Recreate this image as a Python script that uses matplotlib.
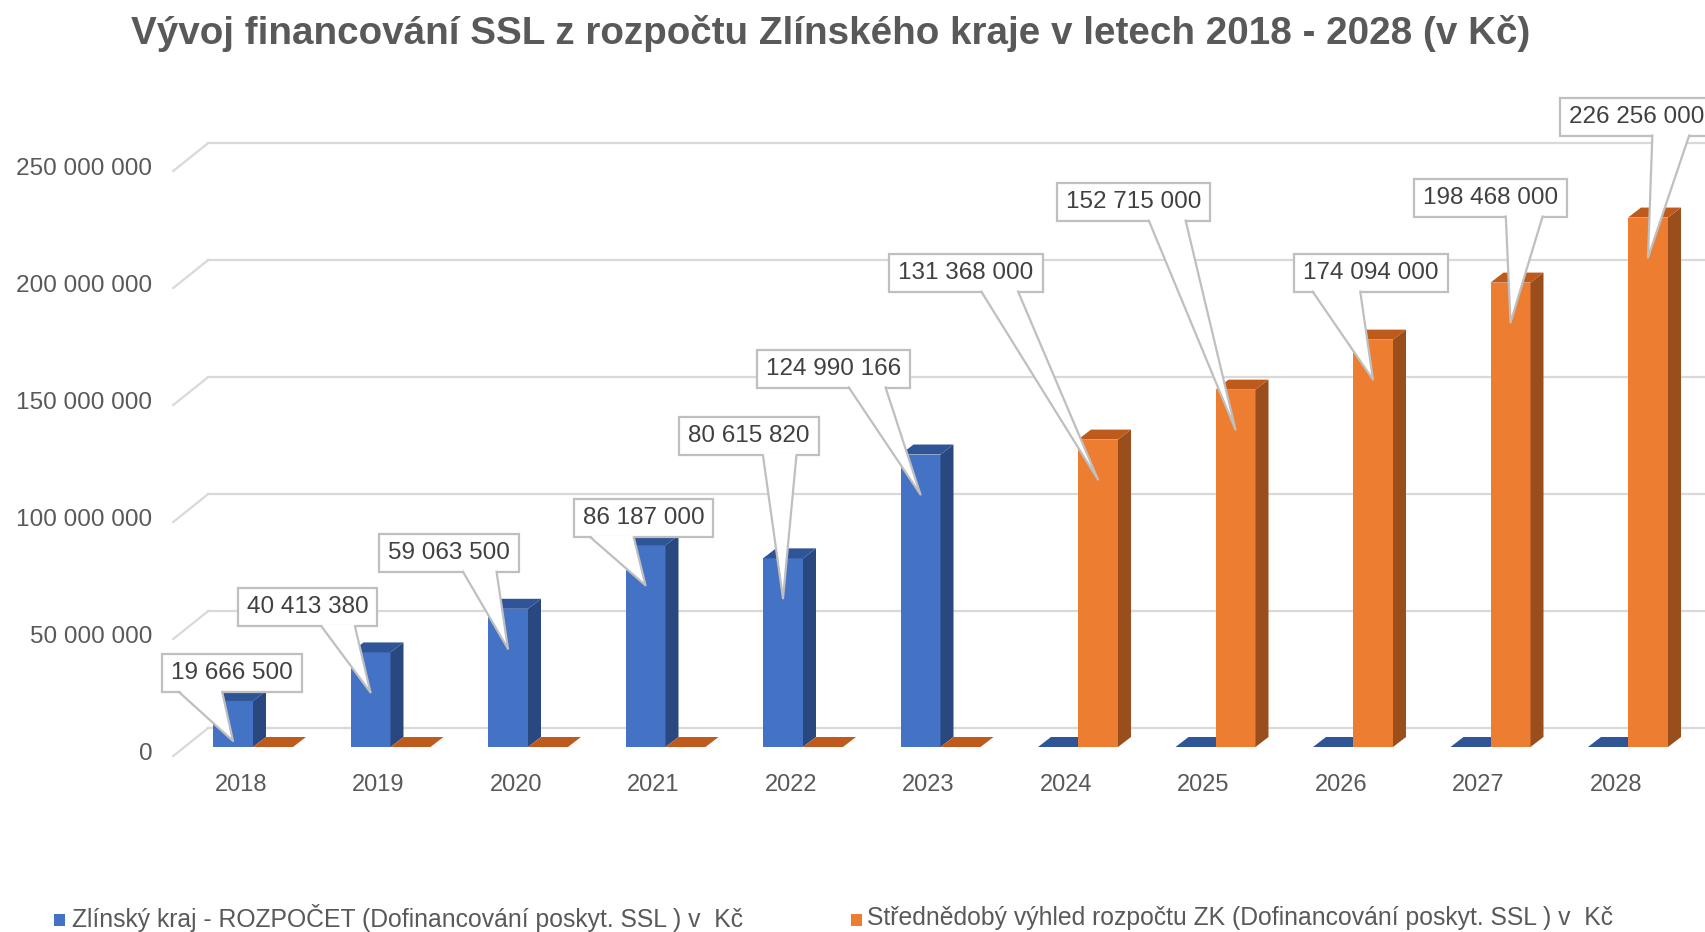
import matplotlib
matplotlib.use("Agg")
import matplotlib.pyplot as plt
from matplotlib.patches import Polygon, Rectangle
from matplotlib.lines import Line2D
from matplotlib.transforms import IdentityTransform

plt.rcParams['font.family'] = ['Liberation Sans', 'DejaVu Sans']

# ---------------- data ----------------
years = ['2018', '2019', '2020', '2021', '2022', '2023', '2024', '2025', '2026', '2027', '2028']
rozpocet = [19666500, 40413380, 59063500, 86187000, 80615820, 124990166, 0, 0, 0, 0, 0]
vyhled = [0, 0, 0, 0, 0, 0, 131368000, 152715000, 174094000, 198468000, 226256000]
y_ticks = [0, 50000000, 100000000, 150000000, 200000000, 250000000]
series_names = ['Zlínský kraj - ROZPOČET (Dofinancování poskyt. SSL ) v  Kč',
                'Střednědobý výhled rozpočtu ZK (Dofinancování poskyt. SSL ) v  Kč']
title = 'Vývoj financování SSL z rozpočtu Zlínského kraje v letech 2018 - 2028 (v Kč)'

# ---------------- layout (pixels) ----------------
W, H = 1706, 932
AX_TOP, AX_BOT = 60, 800
X0_PX, CAT_PX = 253.0, 137.5
BASE_PX, UNIT_PX = 747.0, 2.34e-6
BAR_W = 40.0 / CAT_PX
DX, DY = 13, 10              # bar depth
BACK = (24, 19)              # back wall offset
FRONT = (-11, -9)            # front floor edge offset
# label box centre offsets relative to the front-top centre of the bar (x right, y down)
label_offsets = [(-1, -28), (-63, -45), (-59, -56), (-2, -27), (-34, -122), (-87, -86),
                 (-132, -167), (-102, -188), (-2, -67), (-20, -85), (-11, -101)]

BLUE, BLUE_SIDE, BLUE_TOP = '#4472C4', '#2A4880', '#2F5597'
ORANGE, ORANGE_SIDE, ORANGE_TOP = '#ED7D31', '#9A4E1C', '#BE5A1C'
GRID = '#D9D9D9'
TXT = '#595959'

fig = plt.figure(figsize=(W / 100, H / 100), dpi=100)
ax = fig.add_axes([0, (H - AX_BOT) / H, 1, (AX_BOT - AX_TOP) / H])
ax.set_xlim((0 - X0_PX) / CAT_PX, (W - X0_PX) / CAT_PX)
ax.set_ylim((BASE_PX - AX_BOT) / UNIT_PX, (BASE_PX - AX_TOP) / UNIT_PX)
ax.axis('off')
ID = IdentityTransform()


def disp(x, v, dx=0.0, dy=0.0):
    p = ax.transData.transform((x, v))
    return (p[0] + dx, p[1] + dy)


# gridlines (back wall + left wall diagonal)
for v in y_ticks:
    b = disp(-0.5, v, *BACK)
    f = disp(-0.5, v, *FRONT)
    ax.add_line(Line2D([b[0], W + 5], [b[1], b[1]], transform=ID, color=GRID, lw=1.6, zorder=1))
    ax.add_line(Line2D([f[0], b[0]], [f[1], b[1]], transform=ID, color=GRID, lw=1.6, zorder=1))
    lab = '{:,}'.format(v).replace(',', ' ')
    ax.text(f[0] - 21, f[1] + 2, lab, transform=ID, ha='right', va='center',
            fontsize=17.6, color=TXT)

# x tick labels
for i, y in enumerate(years):
    p = disp(i, 0, -12, -38)
    ax.text(p[0], p[1], y, transform=ID, ha='center', va='center', fontsize=17, color=TXT)

xs = list(range(len(years)))
xb = [x - BAR_W / 2 for x in xs]
xo = [x + BAR_W / 2 for x in xs]
ax.bar(xb, rozpocet, width=BAR_W, color=BLUE, zorder=3)
ax.bar(xo, vyhled, width=BAR_W, color=ORANGE, zorder=3.5)


def faces(xc, v, side_c, top_c, z):
    xl, xr = xc - BAR_W / 2, xc + BAR_W / 2
    side = [disp(xr, 0), disp(xr, v), disp(xr, v, DX, DY), disp(xr, 0, DX, DY)]
    top = [disp(xl, v), disp(xr, v), disp(xr, v, DX, DY), disp(xl, v, DX, DY)]
    ax.add_patch(Polygon(side, closed=True, transform=ID, fc=side_c, ec='none', zorder=z))
    ax.add_patch(Polygon(top, closed=True, transform=ID, fc=top_c, ec='none', zorder=z))


for i in xs:
    faces(xb[i], rozpocet[i], BLUE_SIDE, BLUE_TOP, 3.2)
    faces(xo[i], vyhled[i], ORANGE_SIDE, ORANGE_TOP, 3.7)

# callout data labels
renderer = fig.canvas.get_renderer()
for i in xs:
    if rozpocet[i] > 0:
        xc, v = xb[i], rozpocet[i]
    else:
        xc, v = xo[i], vyhled[i]
    top = disp(xc, v)
    tip = (top[0], top[1] - 40)
    ox, oy = label_offsets[i]
    cx, cy = top[0] + ox, top[1] - oy
    lab = '{:,}'.format(v).replace(',', ' ')
    t = ax.text(cx, cy, lab, transform=ID, ha='center', va='center', fontsize=17.5,
                color='#404040', zorder=12)
    ext = t.get_window_extent(renderer)
    bw = ext.width + 18
    bh = 38
    left, bottom = cx - bw / 2, cy - bh / 2
    ax.add_patch(Rectangle((left, bottom), bw, bh, transform=ID, fc='white', ec='#BFBFBF',
                           lw=1.6, zorder=10, clip_on=False))
    fr = (0.6, 0.84) if tip[0] > cx + 5 else (0.12, 0.43)
    a = left + fr[0] * bw
    b = left + fr[1] * bw
    ax.add_patch(Polygon([(a, bottom + 2), tip, (b, bottom + 2)], closed=True, transform=ID,
                         fc='white', ec='none', zorder=10.5, clip_on=False))
    ax.add_line(Line2D([a, tip[0], b], [bottom, tip[1], bottom], transform=ID,
                       color='#BFBFBF', lw=1.6, zorder=11, clip_on=False))

# title
fig.text(831 / W, 1 - 33 / H, title, ha='center', va='center', fontsize=27.8,
         fontweight='bold', color=TXT)

# legend
for sx, tx, col, name in [(54, 72, BLUE, series_names[0]), (851, 867, ORANGE, series_names[1])]:
    fig.patches.append(Rectangle((sx / W, 1 - 926 / H), 11 / W, 12 / H, transform=fig.transFigure,
                                 fc=col, ec='none', figure=fig))
    fig.text(tx / W, 1 - 918 / H, name, ha='left', va='center', fontsize=17.8, color=TXT)

fig.savefig('out.png', dpi=100)
